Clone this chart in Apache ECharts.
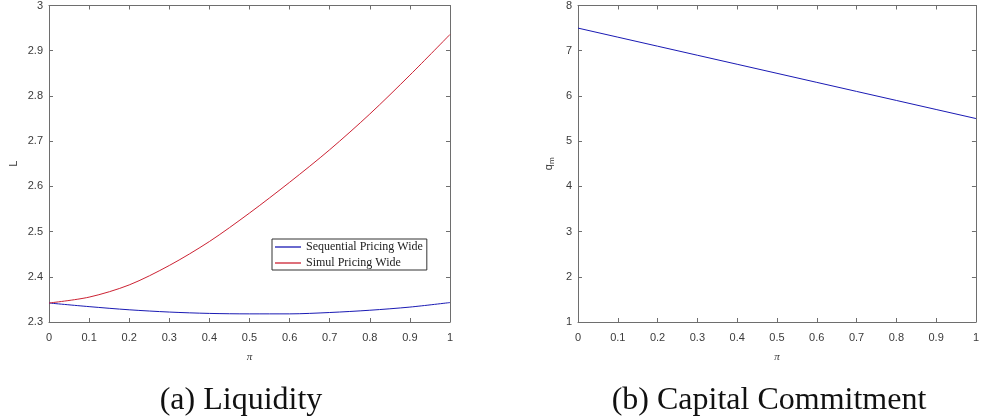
<!DOCTYPE html>
<html>
<head>
<meta charset="utf-8">
<script src="https://cdn.jsdelivr.net/npm/echarts@6/dist/echarts.min.js"></script>
<style>
html,body{margin:0;padding:0;background:#fff;}
#chart{width:982px;height:419px;}
</style>
</head>
<body>
<div id="chart"></div>
<script>
// ---- data ----
var piValues = [0, 0.1, 0.2, 0.3, 0.4, 0.5, 0.6, 0.7, 0.8, 0.9, 1.0];
var xTickLabels = ['0', '0.1', '0.2', '0.3', '0.4', '0.5', '0.6', '0.7', '0.8', '0.9', '1'];
var sequentialL = [2.342, 2.334, 2.327, 2.322, 2.319, 2.318, 2.318, 2.321, 2.326, 2.333, 2.343];
var simulL = [2.342, 2.355, 2.382, 2.425, 2.478, 2.541, 2.609, 2.681, 2.760, 2.846, 2.936];
var qm = [7.5, 7.3, 7.1, 6.9, 6.7, 6.5, 6.3, 6.1, 5.9, 5.7, 5.5];
var seriesNames = ['Sequential Pricing Wide', 'Simul Pricing Wide'];
var panelTitles = ['(a) Liquidity', '(b) Capital Commitment'];

function pairs(xs, ys) { return xs.map(function (x, i) { return [x, ys[i]]; }); }

var axisColor = '#6e6e6e';
var labelColor = '#3a3a3a';
var sans = '"Liberation Sans", Arial, sans-serif';
var serif = '"Liberation Serif", "Times New Roman", serif';

function xAxisBottom(gridIndex) {
  return {
    type: 'value', gridIndex: gridIndex, position: 'bottom', min: 0, max: 1, interval: 0.1,
    name: 'π', nameLocation: 'middle', nameGap: 30,
    nameTextStyle: { fontFamily: serif, fontStyle: 'italic', fontSize: 11, color: labelColor },
    axisLine: { show: true, onZero: false, lineStyle: { color: axisColor, width: 1 } },
    axisTick: { show: true, inside: true, length: 4, lineStyle: { color: axisColor } },
    axisLabel: {
      margin: 10, fontFamily: sans, fontSize: 11, color: labelColor,
      formatter: function (v) { return xTickLabels[Math.round(v * 10)]; }
    },
    splitLine: { show: false }
  };
}
function xAxisTop(gridIndex) {
  return {
    type: 'value', gridIndex: gridIndex, position: 'top', min: 0, max: 1, interval: 0.1,
    axisLine: { show: true, onZero: false, lineStyle: { color: axisColor, width: 1 } },
    axisTick: { show: true, inside: true, length: 4, lineStyle: { color: axisColor } },
    axisLabel: { show: false }, splitLine: { show: false }
  };
}
function yAxisLeft(gridIndex, min, max, interval, name, nameGap, rich) {
  return {
    type: 'value', gridIndex: gridIndex, position: 'left', min: min, max: max, interval: interval,
    name: name, nameLocation: 'middle', nameRotate: 90, nameGap: nameGap,
    nameTextStyle: { fontFamily: sans, fontSize: 11, color: labelColor, rich: rich },
    axisLine: { show: true, onZero: false, lineStyle: { color: axisColor, width: 1 } },
    axisTick: { show: true, inside: true, length: 4, lineStyle: { color: axisColor } },
    axisLabel: { margin: 6, fontFamily: sans, fontSize: 11, color: labelColor },
    splitLine: { show: false }
  };
}
function yAxisRight(gridIndex, min, max, interval) {
  return {
    type: 'value', gridIndex: gridIndex, position: 'right', min: min, max: max, interval: interval,
    axisLine: { show: true, onZero: false, lineStyle: { color: axisColor, width: 1 } },
    axisTick: { show: true, inside: true, length: 4, lineStyle: { color: axisColor } },
    axisLabel: { show: false }, splitLine: { show: false }
  };
}

var chart = echarts.init(document.getElementById('chart'), null, { renderer: 'canvas' });
chart.setOption({
  backgroundColor: '#ffffff',
  animation: false,
  title: [
    { text: panelTitles[0], left: 241, top: 385, textAlign: 'center', padding: 0,
      textStyle: { fontFamily: serif, fontSize: 32, fontWeight: 'normal', color: '#111' } },
    { text: panelTitles[1], left: 769, top: 385, textAlign: 'center', padding: 0,
      textStyle: { fontFamily: serif, fontSize: 32, fontWeight: 'normal', color: '#111' } }
  ],
  grid: [
    { left: 49, top: 5, width: 401, height: 317, containLabel: false },
    { left: 578, top: 5, width: 401, height: 317, containLabel: false }
  ],
  xAxis: [xAxisBottom(0), xAxisTop(0), xAxisBottom(1), xAxisTop(1)],
  yAxis: [
    yAxisLeft(0, 2.3, 3, 0.1, 'L', 30, {}),
    yAxisRight(0, 2.3, 3, 0.1),
    yAxisLeft(1, 1, 8, 1, '{q|q}{m|m}', 22, {
      q: { fontFamily: sans, fontSize: 11, color: labelColor },
      m: { fontFamily: sans, fontSize: 8, color: labelColor, padding: [6, 0, 0, 0] }
    }),
    yAxisRight(1, 1, 8, 1)
  ],
  legend: {
    data: seriesNames.map(function (n) { return { name: n, icon: 'rect' }; }),
    orient: 'vertical',
    left: 272, top: 239,
    padding: [1, 4, 0, 3],
    itemGap: 2,
    itemWidth: 26, itemHeight: 1.3,
    backgroundColor: '#ffffff',
    borderColor: '#333333', borderWidth: 1, borderRadius: 0,
    textStyle: { fontFamily: serif, fontSize: 12, color: '#222', lineHeight: 14 },
    selectedMode: false
  },
  series: [
    { name: seriesNames[0], type: 'line', xAxisIndex: 0, yAxisIndex: 0, data: pairs(piValues, sequentialL),
      smooth: 0.3, symbol: 'none', lineStyle: { color: '#1a1ab4', width: 1 }, itemStyle: { color: '#1a1ab4' } },
    { name: seriesNames[1], type: 'line', xAxisIndex: 0, yAxisIndex: 0, data: pairs(piValues, simulL),
      smooth: 0.3, symbol: 'none', lineStyle: { color: '#cc2233', width: 1 }, itemStyle: { color: '#cc2233' } },
    { name: 'q_m', type: 'line', xAxisIndex: 2, yAxisIndex: 2, data: pairs(piValues, qm),
      symbol: 'none', lineStyle: { color: '#1a1ab4', width: 1 }, itemStyle: { color: '#1a1ab4' } }
  ]
});
</script>
</body>
</html>
